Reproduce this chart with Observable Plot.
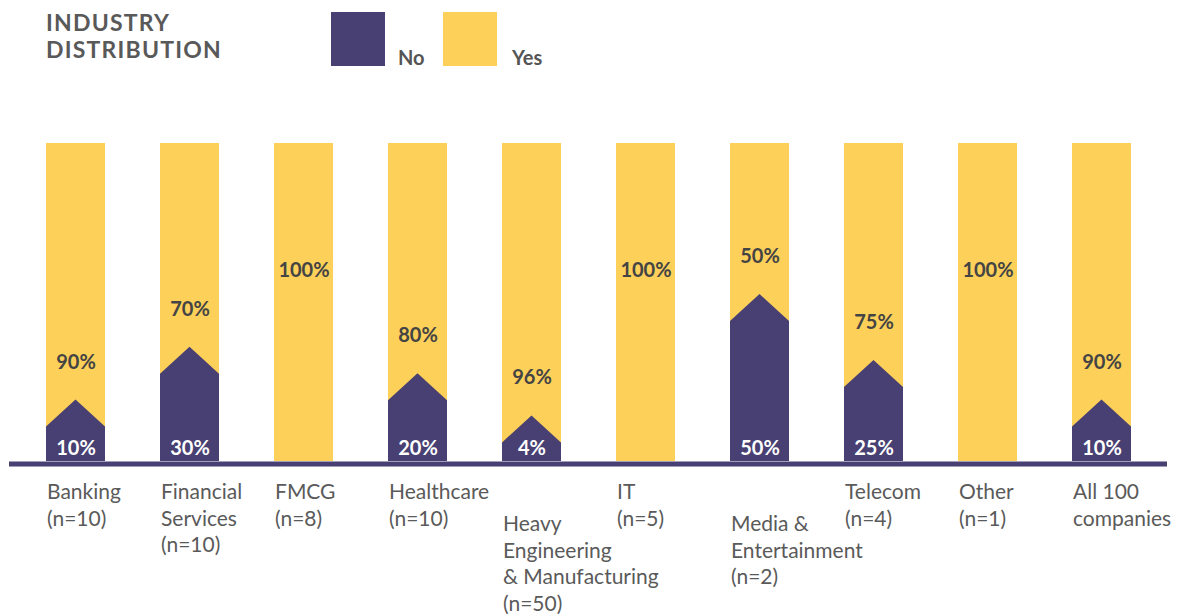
<!DOCTYPE html>
<html><head><meta charset="utf-8">
<script src="https://cdn.jsdelivr.net/npm/d3@7"></script>
<script src="https://cdn.jsdelivr.net/npm/@observablehq/plot@0.6"></script>
<style>
body{margin:0;background:#fff;font-family:Lato,"Open Sans",sans-serif;}
#head{position:relative;height:85px;width:1177px;}
.title{position:absolute;left:46px;font-size:23px;line-height:23px;font-weight:700;color:#595959;letter-spacing:1.2px;white-space:nowrap;}
.sw{position:absolute;top:12px;width:54px;height:54px;}
.lab{position:absolute;top:47px;font-size:20px;line-height:20px;font-weight:700;color:#555;}
#chart svg{overflow:visible;}
</style></head><body>
<div id="head">
  <div class="title" style="top:11px">INDUSTRY</div>
  <div class="title" style="top:38px">DISTRIBUTION</div>
  <div class="sw" style="left:331px;background:#483f72"></div>
  <div class="lab" style="left:398px">No</div>
  <div class="sw" style="left:443px;background:#fdd05a"></div>
  <div class="lab" style="left:512px">Yes</div>
</div>
<div id="chart"></div>
<script>
const categories = ["Banking", "Financial\nServices", "FMCG", "Healthcare", "Heavy\nEngineering\n& Manufacturing", "IT", "Media &\nEntertainment", "Telecom", "Other", "All 100\ncompanies"];
const sampleSize = [10, 10, 8, 10, 50, 5, 2, 4, 1, null];
const noPct = [10, 30, 0, 20, 4, 0, 50, 25, 0, 10];
const yesPct = [90, 70, 100, 80, 96, 100, 50, 75, 100, 90];

const rows = categories.map((c, i) => ({
  cat: c,
  label: sampleSize[i] == null ? c : c + "\n(n=" + sampleSize[i] + ")",
  no: noPct[i],
  yes: yesPct[i],
  total: noPct[i] + yesPct[i]
}));

const PURPLE = "#483f72", YELLOW = "#fdd05a";
const staggered = new Set(["Heavy\nEngineering\n& Manufacturing", "Media &\nEntertainment"]);
const PEAK = 27;
// visual height of the "No" shoulder in pixels from the scaled height
const shoulder = (px) => px * 0.83 + 8;

const bw = (s) => typeof s.bandwidth === "function" ? s.bandwidth() : (s.bandwidth ?? 59);

const chart = Plot.plot({
  width: 1177,
  height: 529,
  marginTop: 58,
  marginBottom: 153,
  marginLeft: 45,
  marginRight: 45,
  x: {domain: categories, paddingInner: 0.483, paddingOuter: 0, axis: null},
  y: {domain: [0, 100], axis: null},
  style: {fontFamily: "Lato, 'Open Sans', sans-serif"},
  marks: [
    Plot.barY(rows, {x: "cat", y: "total", fill: YELLOW}),
    Plot.barY(rows.filter(d => d.no > 0), {
      x: "cat", y: "no", fill: PURPLE,
      render(index, scales, values, dims, ctx) {
        const g = d3.create("svg:g").attr("fill", PURPLE);
        const data = rows.filter(d => d.no > 0);
        const base = scales.y(0);
        const w = bw(scales.x);
        for (const i of index) {
          const d = data[i];
          const x0 = scales.x(d.cat);
          const s = base - shoulder(base - scales.y(d.no));
          const a = s - PEAK;
          g.append("path").attr("d", `M${x0},${base}V${s}L${x0 + w / 2},${a}L${x0 + w},${s}V${base}Z`);
        }
        return g.node();
      }
    }),
    Plot.ruleY([0], {stroke: PURPLE, strokeWidth: 5, dy: 2.5, insetLeft: -36, insetRight: -35}),
    Plot.text(rows.filter(d => d.no > 0), {
      x: "cat", y: 0, text: d => d.no + "%", dy: -13, fill: "white",
      fontSize: 20, fontWeight: 700, lineAnchor: "middle"
    }),
    Plot.text(rows, {
      x: "cat", y: "no", text: d => d.yes + "%", fill: "#444",
      fontSize: 20, fontWeight: 700, lineAnchor: "middle",
      render(index, scales, values, dims, ctx, next) {
        const base = scales.y(0);
        const y = Array.from(values.y);
        for (const i of index) {
          y[i] = rows[i].no === 0 ? scales.y(60) : base - (shoulder(base - values.y[i]) + PEAK + 38);
        }
        return next(index, scales, {...values, y}, dims, ctx);
      }
    }),
    Plot.text(rows.filter(d => !staggered.has(d.cat)), {
      x: "cat", y: 0, text: "label", textAnchor: "start", lineAnchor: "top",
      dx: -29, dy: 19, fontSize: 21, lineHeight: 1.26, fill: "#5a5a5a"
    }),
    Plot.text(rows.filter(d => staggered.has(d.cat)), {
      x: "cat", y: 0, text: "label", textAnchor: "start", lineAnchor: "top",
      dx: -29, dy: 51, fontSize: 21, lineHeight: 1.26, fill: "#5a5a5a"
    })
  ]
});
document.getElementById("chart").appendChild(chart);
</script>
</body></html>
